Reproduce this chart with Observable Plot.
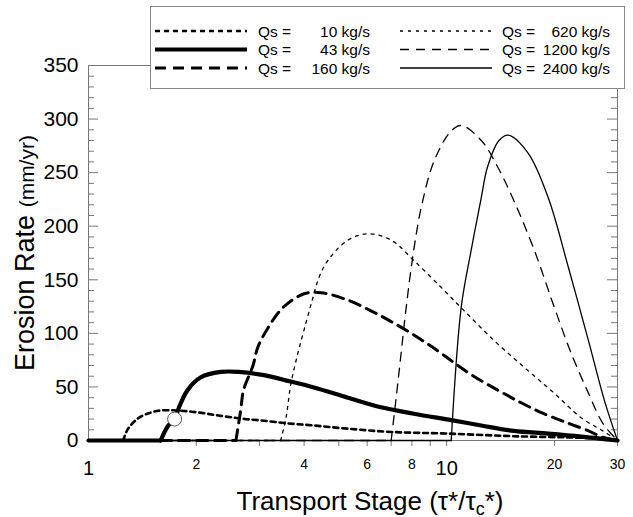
<!DOCTYPE html>
<html><head><meta charset="utf-8">
<script src="https://cdn.jsdelivr.net/npm/d3@7"></script>
<script src="https://cdn.jsdelivr.net/npm/@observablehq/plot@0.6"></script>
<style>
body{margin:0;background:#fff;font-family:"Liberation Sans",Arial,Helvetica,sans-serif;}
#wrap{position:relative;width:633px;height:517px;overflow:hidden;}
#legend{position:absolute;left:150px;top:6px;width:475px;height:83px;box-sizing:border-box;border:1px solid #888;background:#fff;}
</style></head><body><div id="wrap"></div>
<script>
// ---- data ----
const seriesNames = ["10", "43", "160", "620", "1200", "2400"];
const legendValues = ["10 kg/s", "43 kg/s", "160 kg/s", "620 kg/s", "1200 kg/s", "2400 kg/s"];

const x10 = [1, 1.25, 1.29, 1.38, 1.49, 1.59, 1.77, 2.04, 2.34, 2.66, 3.03, 3.6, 4.26, 5.3, 7.0, 10.0, 15.4, 23.8, 27.5, 30];
const y10 = [0, 0, 11, 21, 26, 28, 28, 26, 23, 20.5, 18.7, 16, 14, 11, 8, 6.5, 4, 2.5, 1.2, 0];

const x43 = [1, 1.59, 1.67, 1.74, 1.79, 1.89, 2.06, 2.34, 2.63, 3.09, 3.67, 4.26, 5.3, 6.56, 8.1, 10.3, 12.5, 15.4, 19.2, 23.8, 30];
const y43 = [0, 0, 14, 20, 31, 47, 59, 64, 64, 61, 55, 49.5, 40, 31, 25, 19, 14, 9, 6.5, 3.7, 0];

const x160 = [1, 2.58, 2.66, 2.71, 2.88, 2.97, 3.17, 3.49, 4.0, 4.46, 5.3, 6.15, 7.0, 8.1, 9.23, 10.5, 11.9, 13.9, 16.2, 18.7, 21.9, 24.9, 27.3, 30];
const y160 = [0, 0, 28, 47, 70, 87, 105, 124, 137, 138, 131, 121, 111, 98.5, 86, 72.5, 60, 47, 35, 25, 16, 9, 3, 0];

const x620 = [1, 3.44, 3.56, 3.67, 3.84, 4.05, 4.23, 4.4, 4.66, 5.3, 6.03, 7.0, 8.1, 9.65, 11.2, 13.6, 16.5, 20, 23.8, 27.3, 30];
const y620 = [0, 0, 21, 52, 81, 110, 133, 152, 168, 187, 193, 187, 168, 143, 121, 93, 68, 44, 21, 9, 0];

const x1200 = [1, 7.0, 7.23, 7.46, 7.71, 8.04, 8.5, 9.23, 10.3, 11.0, 12.5, 13.9, 15.4, 17.6, 20.0, 22.3, 24.9, 27.3, 30];
const y1200 = [0, 0, 40, 81, 124, 171, 218, 261, 289, 294, 280, 255, 224, 177, 124, 81, 44, 16, 0];

const x2400 = [1, 10.3, 10.98, 11.7, 12.5, 13.0, 14.0, 14.87, 16.9, 19.2, 21.9, 24.9, 27.6, 30];
const y2400 = [0, 0, 124, 177, 227, 255, 280, 285, 268, 227, 161, 93, 37, 0];

const markerX = [1.74];
const markerY = [20];

const yTicksMajor = [0, 50, 100, 150, 200, 250, 300, 350];
const yTicksMinor = d3.range(0, 351, 10).filter(v => v % 50 !== 0);
const xTicks = [2, 3, 4, 5, 6, 7, 8, 9, 10, 20, 30];
const xLabelsSmall = [2, 4, 6, 8, 20, 30];
const xLabelsBig = [1, 10];

// ---- styles ----
const styles = {
  "10":   {strokeWidth: 2.6, dash: "5,4"},
  "43":   {strokeWidth: 4.2, dash: null},
  "160":  {strokeWidth: 3.0, dash: "11,7"},
  "620":  {strokeWidth: 1.3, dash: "3,5"},
  "1200": {strokeWidth: 1.3, dash: "9,7"},
  "2400": {strokeWidth: 1.3, dash: null}
};
const xs = {"10": x10, "43": x43, "160": x160, "620": x620, "1200": x1200, "2400": x2400};
const ys = {"10": y10, "43": y43, "160": y160, "620": y620, "1200": y1200, "2400": y2400};
const drawOrder = ["2400", "1200", "620", "160", "10", "43"];

const W = 633, H = 517, ML = 88, MR = 16, MT = 65, MB = 77;
const FW = W - ML - MR, FH = H - MT - MB;
const font = "Liberation Sans, Arial, Helvetica, sans-serif";

const lineMarks = drawOrder.flatMap(k => {
  const data = xs[k].map((x, i) => ({x, y: ys[k][i]}));
  const firstNZ = data.findIndex(d => d.y > 0);
  const flat = data.slice(0, firstNZ);
  const rest = data.slice(firstNZ - 1);
  const base = {x: "x", y: "y", stroke: "black", strokeWidth: styles[k].strokeWidth, strokeLinejoin: "round"};
  if (styles[k].dash) base.strokeDasharray = styles[k].dash;
  return [
    Plot.line(flat, {...base, curve: "linear"}),
    Plot.line(rest, {...base, curve: "catmull-rom"})
  ];
});

const chart = Plot.plot({
  width: W, height: H,
  marginLeft: ML, marginRight: MR, marginTop: MT, marginBottom: MB,
  style: {fontFamily: font, background: "white", color: "black"},
  x: {type: "log", domain: [1, 30], axis: null},
  y: {domain: [0, 350], axis: null},
  marks: [
    Plot.frame({stroke: "#777", strokeWidth: 1}),
    // inward y ticks, left and right
    Plot.tickY(yTicksMajor, {y: d => d, stroke: "#777", insetRight: FW - 10}),
    Plot.tickY(yTicksMinor, {y: d => d, stroke: "#777", insetRight: FW - 6}),
    Plot.tickY(yTicksMajor, {y: d => d, stroke: "#777", insetLeft: FW - 10}),
    Plot.tickY(yTicksMinor, {y: d => d, stroke: "#777", insetLeft: FW - 6}),
    // outward x ticks
    Plot.tickX(xTicks, {x: d => d, stroke: "#777", insetTop: FH - 6, dy: 6}),
    ...lineMarks,
    Plot.dot(markerX.map((x, i) => ({x, y: markerY[i]})), {x: "x", y: "y", r: 7, fill: "white", stroke: "#555", strokeWidth: 1}),
    // tick labels
    Plot.text(yTicksMajor, {y: d => d, text: d => String(d), frameAnchor: "left", textAnchor: "end", dx: -10, fontSize: 21}),
    Plot.text(xLabelsSmall, {x: d => d, text: d => String(d), frameAnchor: "bottom", textAnchor: "middle", lineAnchor: "top", dy: 19, fontSize: 14}),
    Plot.text(xLabelsBig, {x: d => d, text: d => String(d), frameAnchor: "bottom", textAnchor: "middle", lineAnchor: "top", dy: 20, fontSize: 20}),
    // axis titles
    Plot.text(["Erosion Rate (mm/yr)"], {text: d => d, frameAnchor: "left", textAnchor: "middle", rotate: -90, lineAnchor: "bottom", dx: -55, fontSize: 27}),
    Plot.text(["Transport Stage (τ*/τc*)"], {text: d => d, frameAnchor: "bottom", textAnchor: "middle", lineAnchor: "bottom", dx: 17, dy: 69, fontSize: 26})
  ]
});

// rich formatting of the axis titles
const NS = "http://www.w3.org/2000/svg";
chart.querySelectorAll("text").forEach(t => {
  const s = t.textContent;
  if (s === "Erosion Rate (mm/yr)") {
    t.textContent = "";
    const a = document.createElementNS(NS, "tspan");
    a.textContent = "Erosion Rate ";
    const b = document.createElementNS(NS, "tspan");
    b.textContent = "(mm/yr)"; b.setAttribute("font-size", "21");
    t.appendChild(a); t.appendChild(b);
  } else if (s === "Transport Stage (τ*/τc*)") {
    t.textContent = "";
    const a = document.createElementNS(NS, "tspan");
    a.textContent = "Transport Stage (τ*/τ";
    const b = document.createElementNS(NS, "tspan");
    b.textContent = "c"; b.setAttribute("font-size", "18"); b.setAttribute("dy", "5");
    const c = document.createElementNS(NS, "tspan");
    c.textContent = "*)"; c.setAttribute("dy", "-5");
    t.appendChild(a); t.appendChild(b); t.appendChild(c);
  }
});

const wrap = document.getElementById("wrap");
wrap.appendChild(chart);

// legend box (overlapping the top right of the frame, as in the figure)
const legend = document.createElement("div");
legend.id = "legend";
const lsvg = document.createElementNS(NS, "svg");
lsvg.setAttribute("width", 473); lsvg.setAttribute("height", 81);
lsvg.style.fontFamily = font;
const rowsY = [24, 42.5, 61];
seriesNames.forEach((k, i) => {
  const col = Math.floor(i / 3), row = i % 3;
  const y = rowsY[row];
  const x0 = col === 0 ? 4 : 249, x1 = col === 0 ? 96 : 341;
  const tx = col === 0 ? 107 : 351, vx = col === 0 ? 219 : 459;
  const ln = document.createElementNS(NS, "line");
  ln.setAttribute("x1", x0); ln.setAttribute("x2", x1);
  ln.setAttribute("y1", y); ln.setAttribute("y2", y);
  ln.setAttribute("stroke", "black");
  ln.setAttribute("stroke-width", styles[k].strokeWidth);
  if (styles[k].dash) ln.setAttribute("stroke-dasharray", styles[k].dash);
  lsvg.appendChild(ln);
  const t1 = document.createElementNS(NS, "text");
  t1.setAttribute("x", tx); t1.setAttribute("y", y + 5.5);
  t1.setAttribute("font-size", 15.5); t1.textContent = "Qs =";
  lsvg.appendChild(t1);
  const t2 = document.createElementNS(NS, "text");
  t2.setAttribute("x", vx); t2.setAttribute("y", y + 5.5);
  t2.setAttribute("font-size", 15.5); t2.setAttribute("text-anchor", "end");
  t2.textContent = legendValues[i];
  lsvg.appendChild(t2);
});
legend.appendChild(lsvg);
wrap.appendChild(legend);
</script>
</body></html>
